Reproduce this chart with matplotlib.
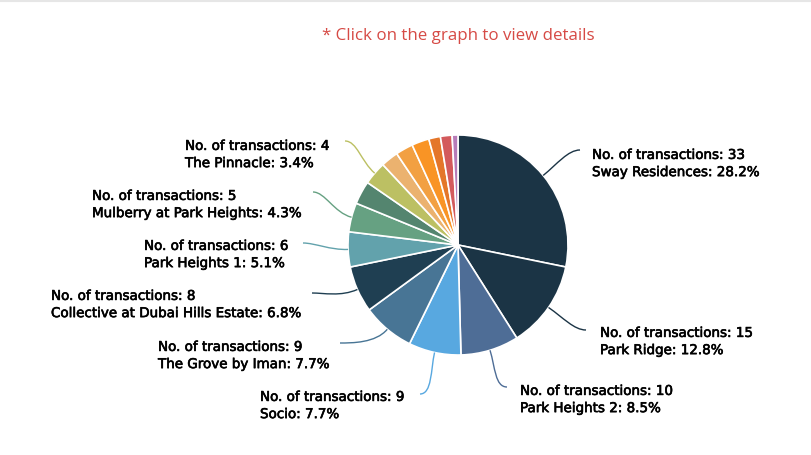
import numpy as np
from matplotlib import pyplot as plt
from matplotlib import patheffects
from matplotlib.path import Path
from matplotlib.patches import PathPatch

transactions = [33, 15, 10, 9, 9, 8, 6, 5, 4, 4, 3, 3, 3, 2, 2, 1]
colors = ["#1b3445", "#1b3445", "#4e6d96", "#58a8e0", "#487595", "#1f3f52", "#62a2ac",
          "#66a182", "#54856f", "#bcc063", "#ebb26f", "#f2a042", "#f99425", "#e4762a",
          "#d35a5c", "#b77cb9"]

# only these slices carry a label in the picture
labelled = [0, 1, 2, 3, 4, 5, 6, 7, 9]
projects = ["Sway Residences", "Park Ridge", "Park Heights 2", "Socio", "The Grove by Iman",
            "Collective at Dubai Hills Estate", "Park Heights 1", "Mulberry at Park Heights",
            "The Pinnacle"]
shares = ["28.2", "12.8", "8.5", "7.7", "7.7", "6.8", "5.1", "4.3", "3.4"]

# label anchor (left edge, middle of the two lines) and leader line stop, in pixels
label_pos = [(592, 164), (600, 342), (520, 400), (260, 406), (158, 356),
             (51, 305), (144, 255), (92, 205), (185, 155)]
line_end = [(580, 150), (586, 330), (507, 387), (420, 394), (340, 343),
            (312, 293), (303, 243), (313, 192), (345, 141)]

W, H = 811, 455
cx, cy, radius = 458, 245, 110

fig = plt.figure(figsize=(W / 100, H / 100), dpi=100)
ax = fig.add_axes([0, 0, 1, 1])
ax.set_xlim(0, W)
ax.set_ylim(0, H)
ax.axis("off")


def py(y):
    return H - y


ax.plot([0, W], [py(0.5), py(0.5)], color="#e6e6e6", lw=1.5)

wedges, _ = ax.pie(transactions, colors=colors, center=(cx, py(cy)), radius=radius,
                   startangle=90, counterclock=False, frame=False,
                   wedgeprops={"edgecolor": "white", "linewidth": 1.2})
ax.set_xlim(0, W)
ax.set_ylim(0, H)
ax.set_aspect("auto")

bold = [patheffects.withStroke(linewidth=0.45, foreground="black")]

for n, i in enumerate(labelled):
    w = wedges[i]
    ang = np.deg2rad((w.theta1 + w.theta2) / 2)
    ux, uy = np.cos(ang), np.sin(ang)
    sx, sy = cx + radius * ux, py(cy) + radius * uy
    ex, ey = line_end[n][0], py(line_end[n][1])
    dirx = -1 if n == 3 else (1 if ex > sx else -1)
    path = Path([(sx, sy), (sx + 18 * ux, sy + 18 * uy), (ex - dirx * 12, ey), (ex, ey)],
                [Path.MOVETO, Path.CURVE4, Path.CURVE4, Path.CURVE4])
    ax.add_patch(PathPatch(path, fc="none", ec=w.get_facecolor(), lw=1.0))
    lx, ly = label_pos[n]
    ax.text(lx, py(ly), f"No. of transactions: {transactions[i]}\n{projects[n]}: {shares[n]}%",
            fontsize=9.7, family="DejaVu Sans", color="black",
            va="center", ha="left", linespacing=1.42, path_effects=bold)

ax.text(458, py(36), "* Click on the graph to view details", color="#d64a45",
        fontsize=12.2, family="Open Sans", ha="center", va="center")

fig.savefig("out.png", dpi=100)
